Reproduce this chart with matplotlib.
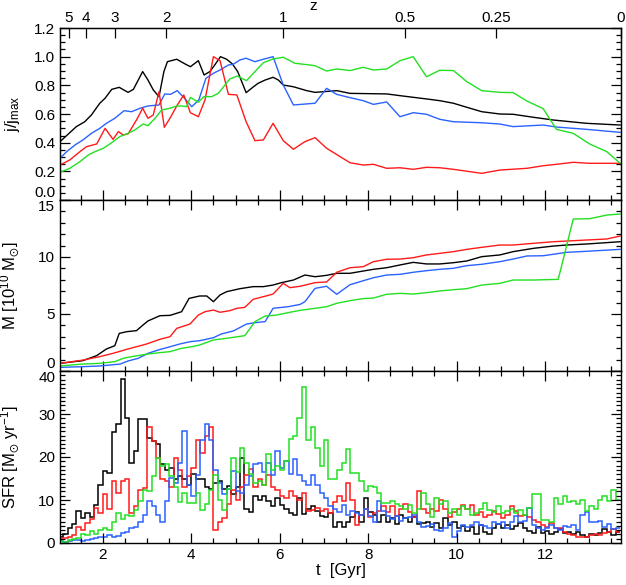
import numpy as np
import matplotlib
matplotlib.use('Agg')
import matplotlib.pyplot as plt
from matplotlib.ticker import MultipleLocator

plt.rcParams['font.family'] = ['Liberation Sans', 'DejaVu Sans']
plt.rcParams['mathtext.default'] = 'regular'

# kolory serii
c_black = 'black'
c_red = '#ff1a1a'
c_blue = '#2a62ff'
c_green = '#22e022'

# --- panel 1: j/j_max ---
t_j_black = [1.03, 1.40, 1.59, 1.74, 1.93, 2.05, 2.20, 2.37, 2.50, 2.57, 2.69, 2.90, 3.02, 3.14, 3.27, 3.38,
             3.46, 3.67, 3.86, 3.98, 4.16, 4.29, 4.42, 4.53, 4.66, 4.80, 4.93, 5.05, 5.24, 5.39, 5.51, 5.67,
             5.85, 5.97, 6.08, 6.31, 6.61, 6.80, 7.29, 7.59, 8.42, 8.72, 9.32, 9.62, 9.93, 10.23, 10.57,
             10.98, 11.28, 11.74, 12.19, 12.94, 13.70]
j_black = [0.407, 0.512, 0.546, 0.593, 0.675, 0.710, 0.772, 0.786, 0.763, 0.751, 0.772, 0.896, 0.837, 0.768,
           0.721, 0.896, 0.965, 0.982, 0.949, 0.930, 0.972, 0.872, 0.896, 0.942, 1.000, 0.982, 0.949, 0.896,
           0.749, 0.786, 0.814, 0.837, 0.856, 0.837, 0.802, 0.790, 0.763, 0.751, 0.763, 0.744, 0.740, 0.728,
           0.705, 0.693, 0.675, 0.647, 0.616, 0.600, 0.598, 0.577, 0.558, 0.535, 0.523]

t_j_red = [1.03, 1.25, 1.48, 1.63, 1.86, 2.05, 2.23, 2.35, 2.46, 2.57, 2.76, 2.90, 3.02, 3.14, 3.27, 3.39,
           3.53, 3.67, 3.83, 3.98, 4.16, 4.31, 4.50, 4.65, 4.84, 5.03, 5.24, 5.44, 5.63, 5.85, 6.08, 6.31,
           6.57, 6.80, 7.06, 7.59, 7.89, 8.12, 8.42, 8.72, 9.02, 9.32, 9.62, 9.93, 10.57, 10.98, 11.59,
           11.96, 12.26, 12.64, 13.01, 13.70]
j_red = [0.244, 0.279, 0.337, 0.372, 0.391, 0.500, 0.423, 0.477, 0.454, 0.461, 0.558, 0.640, 0.570, 0.593,
         0.756, 0.507, 0.577, 0.656, 0.733, 0.609, 0.581, 0.698, 1.000, 0.972, 0.737, 0.733, 0.546, 0.414,
         0.419, 0.535, 0.414, 0.354, 0.407, 0.435, 0.361, 0.260, 0.244, 0.249, 0.221, 0.225, 0.214, 0.228,
         0.225, 0.214, 0.186, 0.209, 0.221, 0.239, 0.249, 0.263, 0.256, 0.256]

t_j_blue = [1.03, 1.18, 1.37, 1.55, 1.74, 1.93, 2.08, 2.27, 2.48, 2.65, 2.84, 3.02, 3.27, 3.40, 3.53, 3.68,
            3.83, 4.01, 4.17, 4.33, 4.50, 4.65, 4.84, 4.95, 5.10, 5.24, 5.44, 5.63, 5.85, 6.08, 6.31, 6.80,
            7.06, 7.29, 7.59, 7.89, 8.12, 8.42, 8.72, 9.02, 9.32, 9.62, 9.93, 10.57, 10.98, 11.28, 11.96,
            12.26, 12.94, 13.70]
j_blue = [0.291, 0.337, 0.384, 0.419, 0.465, 0.500, 0.535, 0.570, 0.623, 0.616, 0.640, 0.656, 0.663, 0.740,
          0.737, 0.763, 0.716, 0.651, 0.698, 0.849, 0.884, 0.907, 0.942, 0.947, 0.977, 0.989, 0.965, 0.982,
          1.000, 0.802, 0.663, 0.675, 0.779, 0.737, 0.714, 0.693, 0.667, 0.684, 0.581, 0.609, 0.598, 0.563,
          0.546, 0.539, 0.530, 0.512, 0.523, 0.509, 0.493, 0.472]

t_j_green = [1.03, 1.25, 1.48, 1.67, 1.82, 2.01, 2.20, 2.38, 2.57, 2.72, 2.91, 3.02, 3.18, 3.33, 3.52, 3.67,
             3.78, 3.89, 3.98, 4.16, 4.28, 4.46, 4.61, 4.72, 4.87, 5.04, 5.25, 5.44, 5.63, 5.85, 6.08, 6.34,
             6.68, 6.80, 7.06, 7.29, 7.59, 7.89, 8.12, 8.42, 8.72, 9.02, 9.32, 9.62, 9.93, 10.23, 10.57,
             10.98, 11.28, 11.59, 11.96, 12.26, 12.64, 13.01, 13.40, 13.70]
j_green = [0.193, 0.221, 0.267, 0.314, 0.337, 0.361, 0.400, 0.442, 0.465, 0.488, 0.530, 0.519, 0.570, 0.628,
           0.640, 0.656, 0.656, 0.651, 0.716, 0.682, 0.721, 0.721, 0.744, 0.786, 0.844, 0.865, 0.833, 0.896,
           0.958, 0.984, 0.996, 0.954, 0.942, 0.937, 0.900, 0.914, 0.903, 0.926, 0.907, 0.914, 0.972, 1.000,
           0.860, 0.905, 0.903, 0.826, 0.763, 0.751, 0.749, 0.691, 0.637, 0.493, 0.465, 0.391, 0.337, 0.256]

# --- panel 2: masa [10^10 Msun] ---
t_m_black = [1.03, 1.55, 1.86, 2.08, 2.27, 2.37, 2.54, 2.76, 2.91, 3.02, 3.29, 3.52, 3.78, 3.95, 4.19, 4.35,
             4.50, 4.65, 4.80, 5.10, 5.40, 5.63, 5.85, 6.04, 6.31, 6.57, 6.80, 7.06, 7.29, 7.59, 7.89, 8.12,
             8.42, 8.72, 9.02, 9.32, 9.62, 9.93, 10.23, 10.57, 10.98, 11.28, 11.74, 12.19, 12.49, 12.94, 13.70]
m_black = [0.67, 0.91, 1.35, 1.93, 2.22, 3.30, 3.45, 3.54, 4.04, 4.39, 4.85, 4.88, 5.20, 6.37, 6.58, 6.58,
           6.08, 6.67, 6.96, 7.22, 7.40, 7.40, 7.54, 7.75, 7.98, 8.42, 8.27, 8.39, 8.57, 8.57, 8.77, 8.92,
           9.06, 9.30, 9.53, 9.39, 9.39, 9.50, 9.65, 10.03, 10.18, 10.47, 10.76, 10.96, 11.05, 11.14, 11.34]

t_m_red = [1.03, 1.55, 1.93, 2.23, 2.54, 2.76, 2.99, 3.29, 3.52, 3.67, 3.97, 4.16, 4.31, 4.50, 4.65, 4.87,
           5.03, 5.21, 5.40, 5.63, 5.85, 6.08, 6.23, 6.46, 6.80, 7.06, 7.29, 7.59, 7.89, 8.12, 8.42, 8.72,
           9.02, 9.32, 9.62, 9.93, 10.23, 10.57, 10.98, 11.28, 11.74, 12.19, 12.49, 12.94, 13.40, 13.70]
m_red = [0.67, 0.96, 1.26, 1.55, 1.90, 2.13, 2.37, 2.78, 3.01, 3.74, 4.12, 4.91, 5.20, 5.35, 5.15, 5.29,
         5.50, 5.58, 6.29, 6.52, 6.75, 7.69, 7.31, 7.43, 7.75, 7.81, 8.66, 9.06, 9.15, 9.59, 9.80, 9.82,
         9.94, 10.18, 10.32, 10.47, 10.67, 10.85, 11.05, 11.05, 11.20, 11.34, 11.40, 11.49, 11.58, 11.84]

t_m_blue = [1.03, 1.55, 1.93, 2.39, 2.57, 2.80, 3.02, 3.25, 3.52, 3.74, 3.97, 4.19, 4.50, 4.68, 4.95, 5.25,
            5.44, 5.67, 5.85, 6.19, 6.46, 6.57, 6.80, 7.06, 7.29, 7.59, 7.89, 8.12, 8.42, 8.72, 9.02, 9.32,
            9.62, 9.93, 10.23, 10.57, 10.98, 11.28, 11.59, 11.96, 12.19, 12.49, 12.94, 13.70]
m_blue = [0.32, 0.38, 0.44, 0.61, 0.88, 1.11, 1.55, 1.84, 2.13, 2.37, 2.57, 2.66, 2.92, 3.25, 3.51, 4.12,
          4.24, 4.33, 5.50, 5.64, 5.84, 6.08, 7.25, 7.43, 6.73, 7.57, 7.92, 8.18, 8.42, 8.48, 8.66, 8.80,
          8.92, 9.01, 9.24, 9.36, 9.59, 9.82, 10.09, 10.11, 10.24, 10.41, 10.50, 10.67]

t_m_green = [1.03, 1.55, 1.93, 2.27, 2.46, 2.65, 3.02, 3.29, 3.52, 3.78, 4.01, 4.19, 4.50, 4.80, 5.21, 5.44,
             5.67, 5.93, 6.23, 6.46, 6.80, 7.06, 7.29, 7.59, 7.89, 8.12, 8.42, 8.72, 9.02, 9.32, 9.62, 9.93,
             10.23, 10.57, 10.98, 11.28, 11.74, 12.30, 12.64, 13.01, 13.40, 13.70]
m_green = [0.44, 0.61, 0.67, 0.82, 1.11, 1.26, 1.49, 1.61, 1.70, 1.99, 2.13, 2.28, 2.72, 2.87, 3.10, 4.33,
           4.82, 4.91, 5.15, 5.32, 5.50, 5.64, 5.94, 6.17, 6.35, 6.40, 6.73, 6.81, 6.75, 6.87, 7.02, 7.13,
           7.22, 7.54, 7.69, 7.98, 7.98, 8.04, 13.33, 13.36, 13.68, 13.77]

# --- panel 3: SFR [Msun/yr], przedziały co 0.1 Gyr od 1.0 do 13.7 ---
sfr_t_start = 1.0
sfr_dt = 0.1
sfr_black = [1.5, 2, 3.4, 4.5, 7.5, 5.8, 7, 6, 8.9, 13.6,
             16.7, 16.3, 25.7, 27.7, 38.2, 29, 18.7, 21.4, 28.8, 28.8,
             24.5, 23.8, 23, 18.3, 17, 17.5, 15, 15.5, 15, 13.5,
             16, 15, 14.8, 13, 12.5, 14, 14.4, 12.5, 13.2, 11.5,
             13, 19.8, 8, 7.3, 11, 10, 11, 9.7, 8.5, 10.5,
             8.9, 8, 7, 6.6, 10.5, 6.8, 8, 8.5, 7.5, 6.2,
             6, 7, 3.8, 5, 3.8, 5, 6, 7.3, 5, 10.5,
             7.3, 6.5, 5, 6.6, 5, 5.8, 4.5, 6.6, 5.8, 5,
             6, 4.5, 4.6, 5, 3.8, 4.6, 3.5, 5.8, 4.2, 5,
             3.5, 3.9, 2.7, 3.8, 2, 4.2, 2.6, 2, 3.6, 4.5,
             3.6, 4.2, 3.2, 3.9, 4.6, 3.5, 2.8, 2.3, 3.8, 2.3,
             2.8, 2, 2.5, 3.2, 2.3, 2.6, 2, 2.5, 1.8, 1.5,
             2.2, 1.8, 2.3, 3.2, 2.5, 1.8, 2.6]
sfr_red = [1.1, 1.2, 1.4, 1.9, 3.8, 3, 4.6, 5.5, 8.1, 7,
           11.3, 8, 14.4, 11.6, 14.4, 14.8, 7, 8.5, 12.4, 12.8,
           26.9, 23.8, 19.8, 15, 14.4, 13, 19.8, 17, 13, 15.5,
           17.5, 24, 21, 25, 27, 3, 5, 5.8, 9, 12.4,
           10, 13, 15.9, 17.1, 13, 15, 13.5, 15.9, 13, 12.4,
           11, 10.5, 12, 11, 10, 11.6, 7.5, 7.7, 8.2, 7.5,
           8, 7, 9.5, 11, 9.7, 14, 10, 4.2, 6.5, 8,
           6, 7, 7.5, 8.5, 7.3, 8.5, 6.2, 8, 9, 7.3,
           6, 12, 8, 7, 8, 7.5, 10.1, 8, 6, 7.2,
           8, 8.9, 8, 8.9, 6.5, 7.3, 6, 6.5, 7.5, 6.8,
           5.8, 6.5, 8.5, 7.5, 6.2, 6.5, 6, 5.4, 5, 4.2,
           3.8, 4.6, 3.6, 3.4, 2.6, 2.2, 1.8, 1.5, 1.4, 1.5,
           1.8, 2.2, 1.8, 2.3, 2.6, 3.2, 2.6]
sfr_blue = [0.5, 0.3, 0.4, 0.7, 0.6, 0.5, 0.6, 0.9, 1.1, 1.3,
            1.5, 1.9, 1.5, 1.7, 2.3, 2.6, 3.4, 3.8, 5, 6.6,
            9.7, 8.5, 6.6, 5, 9.7, 15.2, 14, 18.7, 26.1, 13.6,
            11, 15.9, 24, 27.7, 24, 17, 14, 11.5, 12.5, 16.7,
            12, 11.6, 13.6, 15.5, 18.3, 18.7, 16.5, 18.5, 15.9, 21.4,
            17.5, 19, 16, 19.5, 15.9, 14.4, 13.6, 15.9, 13.6, 11.6,
            10.5, 8.5, 8, 7.3, 8.9, 6.5, 7.5, 7, 6.5, 7.8,
            6.2, 5, 9.7, 7.5, 6.2, 5.5, 6.3, 5.2, 5.8, 6,
            6.6, 5, 3.8, 4, 4.5, 3, 2.7, 3.4, 4.6, 1.5,
            2.7, 4.2, 3.8, 4.2, 5, 4.2, 4, 3.4, 5, 4.5,
            5, 3.4, 4.8, 6.2, 5, 5.2, 8.1, 4.2, 3.4, 3,
            3.4, 4.2, 3.6, 3, 4, 3.8, 4.2, 3, 6.6, 7.3,
            5, 4.8, 5.2, 3.8, 4.5, 3.2, 3.5]
sfr_green = [0.4, 0.3, 0.7, 0.9, 1.1, 2, 1.8, 2.7, 2.2, 3,
             3.4, 3, 5, 7, 5.5, 6.6, 6.2, 7.7, 9.7, 12.4,
             12, 15.5, 19.8, 17.9, 18.3, 15.5, 13, 9.5, 11.6, 9.3,
             9.3, 11.6, 7.7, 9, 12.4, 15.9, 10, 7.7, 12.5, 19.8,
             16.5, 22.2, 18.7, 16, 14, 14.5, 13.5, 20.6, 17, 18,
             17, 19, 24.1, 25, 29, 36.3, 24, 27, 22, 18,
             24, 14.8, 14.8, 17, 18.7, 21.8, 16.3, 16.3, 14.4, 12,
             13.2, 13, 11.6, 9.3, 9.3, 9.8, 9, 8.5, 8, 8.8,
             7, 8, 11.6, 9, 6, 10.5, 9, 9.7, 7, 8,
             6.5, 8.6, 8, 6.5, 7, 8, 9.3, 7.7, 7.3, 8.5,
             7, 7.5, 8, 7, 7.7, 6.5, 8.1, 11.3, 11.3, 5.4,
             5.4, 5, 10.5, 9, 10.9, 9.5, 9.8, 9, 10, 7.5,
             8.5, 7.8, 10, 10.9, 9.8, 12.4, 10]

# górna oś: przesunięcie ku czerwieni
z_labels = ['5', '4', '3', '2', '1', '0.5', '0.25', '0']
z_t = [1.23, 1.62, 2.27, 3.43, 6.07, 8.84, 10.89, 13.72]

t_min, t_max = 1.03, 13.72

fig = plt.figure(figsize=(6.26, 5.85), dpi=100)
left, width = 60 / 626, 561 / 626
ax1 = fig.add_axes([left, 1 - 200 / 585, width, 172 / 585])
ax2 = fig.add_axes([left, 1 - 371 / 585, width, 171 / 585])
ax3 = fig.add_axes([left, 1 - 543 / 585, width, 172 / 585])

lw = 1.0
ax1.plot(t_j_black, j_black, color=c_black, lw=lw)
ax1.plot(t_j_blue, j_blue, color=c_blue, lw=lw)
ax1.plot(t_j_red, j_red, color=c_red, lw=lw)
ax1.plot(t_j_green, j_green, color=c_green, lw=lw)

ax2.plot(t_m_black, m_black, color=c_black, lw=lw)
ax2.plot(t_m_blue, m_blue, color=c_blue, lw=lw)
ax2.plot(t_m_red, m_red, color=c_red, lw=lw)
ax2.plot(t_m_green, m_green, color=c_green, lw=lw)

edges = sfr_t_start + sfr_dt * np.arange(len(sfr_black) + 1)
ax3.stairs(sfr_black, edges, color=c_black, lw=1.1, baseline=None)
ax3.stairs(sfr_red, edges, color=c_red, lw=1.1, baseline=None)
ax3.stairs(sfr_blue, edges, color=c_blue, lw=1.1, baseline=None)
ax3.stairs(sfr_green, edges, color=c_green, lw=1.1, baseline=None)

for ax in (ax1, ax2, ax3):
    ax.set_xlim(t_min, t_max)
    ax.xaxis.set_major_locator(MultipleLocator(2))
    ax.xaxis.set_minor_locator(MultipleLocator(0.5))
    ax.tick_params(which='both', direction='in', top=True, right=True, labelsize=11, width=0.9)
    ax.tick_params(which='major', length=7)
    ax.tick_params(which='minor', length=3.5)
    for s in ax.spines.values():
        s.set_linewidth(1.0)

ax1.set_ylim(0, 1.2)
ax1.yaxis.set_major_locator(MultipleLocator(0.2))
ax1.yaxis.set_minor_locator(MultipleLocator(0.05))
ax1.yaxis.set_major_formatter(plt.FormatStrFormatter('%.1f'))
ax1.tick_params(axis='x', which='both', top=False, labelbottom=False)
ax1.set_ylabel('j/j$_{max}$', fontsize=12)

ax2.set_ylim(0, 15)
ax2.yaxis.set_major_locator(MultipleLocator(5))
ax2.yaxis.set_minor_locator(MultipleLocator(1))
ax2.tick_params(axis='x', labelbottom=False)
ax2.set_ylabel('M [10$^{10}$ M$_{\\odot}$]', fontsize=12)

ax3.set_ylim(0, 40)
ax3.yaxis.set_major_locator(MultipleLocator(10))
ax3.yaxis.set_minor_locator(MultipleLocator(1))
ax3.set_ylabel('SFR [M$_{\\odot}$ yr$^{-1}$]', fontsize=12)
ax3.set_xlabel('t  [Gyr]', fontsize=12, labelpad=1)

for ax in (ax1, ax2, ax3):
    ax.yaxis.set_label_coords(-0.068, 0.5)

axz = ax1.twiny()
axz.set_xlim(t_min, t_max)
axz.set_xticks(z_t)
axz.set_xticklabels(z_labels)
axz.xaxis.set_minor_locator(plt.NullLocator())
axz.tick_params(axis='x', direction='in', length=7, width=0.9, labelsize=11, pad=2)
fig.text(313 / 626, 1 - 6 / 585, 'z', fontsize=11, ha='center', va='center')

# etykiety na stykach paneli: dolna do góry, górna w dół (jak w oryginale)
fig.canvas.draw()
for ax in (ax1, ax2, ax3):
    lo, hi = ax.get_ylim()
    for tick in ax.yaxis.get_major_ticks():
        loc = tick.get_loc()
        if abs(loc - lo) < 1e-9 and ax is not ax3:
            tick.label1.set_va('bottom')
        elif abs(loc - hi) < 1e-9 and ax is not ax1:
            tick.label1.set_va('top')

fig.savefig('out.png', dpi=100)
